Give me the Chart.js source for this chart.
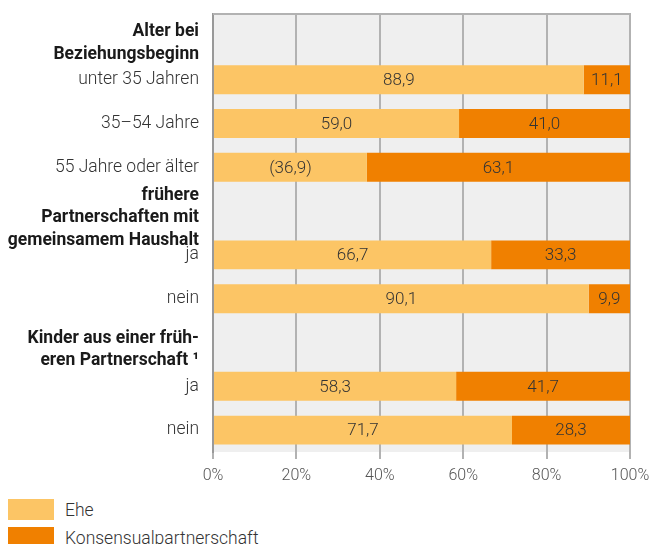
<!DOCTYPE html>
<html>
<head>
<meta charset="utf-8">
<script src="https://cdn.jsdelivr.net/npm/chart.js@4.4.1/dist/chart.umd.min.js"></script>
<style>
  html, body { margin: 0; padding: 0; background: #fff; }
  body { width: 649px; height: 544px; overflow: hidden; position: relative; font-family: Roboto, 'Noto Sans', sans-serif; }
  #wrap { position: absolute; left: 0; top: 0; width: 649px; height: 489px; }
  #legend { position: absolute; left: 8px; top: 499px; }
  .lg-item { display: flex; align-items: center; height: 21px; margin-bottom: 7px; }
  .lg-box { width: 46px; height: 21px; margin-right: 11px; }
  .lg-text { font-size: 17.5px; font-weight: 300; color: #333; }
</style>
</head>
<body>
<div id="wrap"><canvas id="chart"></canvas></div>
<div id="legend"></div>
<script>
// ── Data ──────────────────────────────────────────────
const categories = [
  ['Alter bei', 'Beziehungsbeginn'],
  'unter 35 Jahren',
  '35–54 Jahre',
  '55 Jahre oder älter',
  ['frühere', 'Partnerschaften mit', 'gemeinsamem Haushalt'],
  'ja',
  'nein',
  ['Kinder aus einer früh-', 'eren Partnerschaft ¹'],
  'ja',
  'nein'
];
const isHeader = [true, false, false, false, true, false, false, true, false, false];

const seriesNames = ['Ehe', 'Konsensualpartnerschaft'];
const ehe        = [null, 88.9, 59.0, 36.9, null, 66.7, 90.1, null, 58.3, 71.7];
const konsensual = [null, 11.1, 41.0, 63.1, null, 33.3,  9.9, null, 41.7, 28.3];
// values shown in brackets (limited reliability)
const eheBracket        = [false, false, false, true, false, false, false, false, false, false];
const konsensualBracket = [false, false, false, false, false, false, false, false, false, false];

const xTicks = [0, 20, 40, 60, 80, 100];

// ── Colours ───────────────────────────────────────────
const COLORS = {
  ehe:      '#fcc565',
  kons:     '#f08000',
  plotBg:   '#efefef',
  grid:     '#b2b2b2',
  axis:     '#999999',
  text:     '#333333',
  header:   '#1a1a1a',
};

const LABEL_FONT  = { family: 'Roboto', size: 17.5, weight: 300, lineHeight: 1.3 };
const HEADER_FONT = 'bold 17.5px Roboto, sans-serif';
const HEADER_LINE = 22.5;   // px between header lines
const HEADER_SHIFT = 7;     // header blocks sit a bit below the row centre

// ── Plugins ───────────────────────────────────────────
const plotBackground = {
  id: 'plotBackground',
  beforeDraw(chart) {
    const { ctx, chartArea: a } = chart;
    ctx.save();
    ctx.fillStyle = COLORS.plotBg;
    ctx.fillRect(a.left, a.top, a.right - a.left, a.bottom - a.top);
    ctx.restore();
  },
  beforeDatasetsDraw(chart) {
    const { ctx, chartArea: a } = chart;
    ctx.save();
    ctx.strokeStyle = COLORS.grid;
    ctx.lineWidth = 2;
    ctx.beginPath();
    ctx.moveTo(a.left, a.top);
    ctx.lineTo(a.right + 1, a.top);
    ctx.stroke();
    ctx.restore();
  }
};

// group headings drawn next to the axis (bold, several lines)
const headerLabels = {
  id: 'headerLabels',
  afterDraw(chart) {
    const { ctx } = chart;
    const yScale = chart.scales.y;
    const xRight = yScale.right - 14;
    ctx.save();
    ctx.font = HEADER_FONT;
    ctx.fillStyle = COLORS.header;
    ctx.textAlign = 'right';
    ctx.textBaseline = 'middle';
    categories.forEach((lab, i) => {
      if (!isHeader[i]) return;
      const lines = Array.isArray(lab) ? lab : [lab];
      const yc = yScale.getPixelForValue(i) + HEADER_SHIFT;
      const y0 = yc - (lines.length - 1) * HEADER_LINE / 2;
      lines.forEach((ln, k) => ctx.fillText(ln, xRight, y0 + k * HEADER_LINE));
    });
    ctx.restore();
  }
};

const brackets = [eheBracket, konsensualBracket];
const valueLabels = {
  id: 'valueLabels',
  afterDatasetsDraw(chart) {
    const { ctx } = chart;
    ctx.save();
    ctx.font = '300 17px Roboto, sans-serif';
    ctx.fillStyle = COLORS.text;
    ctx.textAlign = 'center';
    ctx.textBaseline = 'middle';
    chart.data.datasets.forEach((ds, di) => {
      const meta = chart.getDatasetMeta(di);
      meta.data.forEach((bar, i) => {
        const v = ds.data[i];
        if (v == null) return;
        const { x, y, base } = bar.getProps(['x', 'y', 'base'], true);
        let txt = v.toFixed(1).replace('.', ',');
        if (brackets[di][i]) txt = '(' + txt + ')';
        ctx.fillText(txt, (x + base) / 2, y + 1);
      });
    });
    ctx.restore();
  }
};

// ── Chart ─────────────────────────────────────────────
const ctx = document.getElementById('chart').getContext('2d');
const chart = new Chart(ctx, {
  type: 'bar',
  data: {
    labels: categories,
    datasets: [
      { label: seriesNames[0], data: ehe,        backgroundColor: COLORS.ehe },
      { label: seriesNames[1], data: konsensual, backgroundColor: COLORS.kons },
    ]
  },
  options: {
    indexAxis: 'y',
    responsive: true,
    maintainAspectRatio: false,
    animation: false,
    layout: { padding: { top: 14, right: 19, left: 0, bottom: 0 } },
    datasets: { bar: { barPercentage: 0.66, categoryPercentage: 1, borderWidth: 0 } },
    plugins: {
      legend: { display: false },
      tooltip: { enabled: false },
    },
    scales: {
      x: {
        stacked: true,
        min: 0,
        max: 100,
        afterBuildTicks: (scale) => { scale.ticks = xTicks.map(v => ({ value: v })); },
        afterFit: (scale) => {
          scale.height = 37;
          scale.paddingLeft = 0;
          scale.paddingRight = 0;
        },
        grid: { color: COLORS.grid, lineWidth: 2, tickLength: 7, drawTicks: true },
        border: { display: false },
        ticks: {
          padding: 7,
          maxRotation: 0,
          color: '#555',
          font: { family: 'Roboto', size: 16, weight: 300 },
          callback: (v) => v + '%',
        }
      },
      y: {
        stacked: true,
        grid: { display: false, drawTicks: false },
        border: { display: true, color: COLORS.axis, width: 2 },
        afterFit: (scale) => {
          scale.width = 213;
          scale.paddingTop = 0;
          scale.paddingBottom = 0;
        },
        ticks: {
          autoSkip: false,
          padding: 14,
          color: COLORS.text,
          font: LABEL_FONT,
          callback: (v, i) => isHeader[i] ? '' : categories[i],
        }
      }
    }
  },
  plugins: [plotBackground, headerLabels, valueLabels]
});

// ── HTML Legend ───────────────────────────────────────
const legendEl = document.getElementById('legend');
chart.data.datasets.forEach(ds => {
  const item = document.createElement('div');
  item.className = 'lg-item';
  item.innerHTML = `<span class="lg-box" style="background:${ds.backgroundColor}"></span><span class="lg-text">${ds.label}</span>`;
  legendEl.appendChild(item);
});
</script>
</body>
</html>
